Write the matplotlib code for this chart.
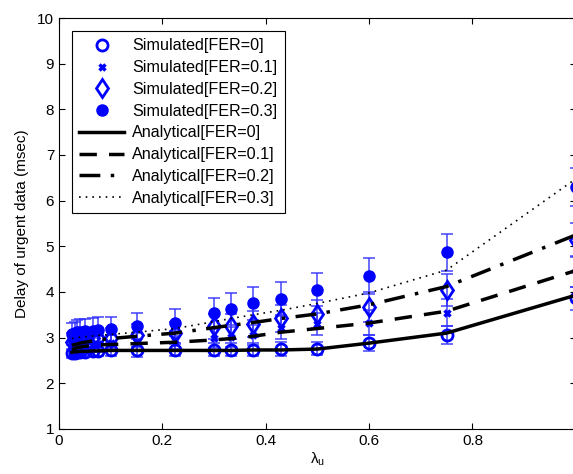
import numpy as np
import matplotlib.pyplot as plt

plt.rcParams.update({'font.family': ['Liberation Sans', 'DejaVu Sans'], 'font.size': 9})

# arrival rate of urgent traffic
lam = [0.025, 0.03, 0.035, 0.04, 0.05, 0.0667, 0.075, 0.1, 0.15, 0.225,
       0.3, 0.333, 0.375, 0.43, 0.5, 0.6, 0.75, 1.0]

# simulated delay (msec) and error half-widths
sim_fer0 = [2.66, 2.67, 2.68, 2.68, 2.69, 2.70, 2.71, 2.72, 2.73, 2.74,
            2.74, 2.74, 2.74, 2.75, 2.76, 2.88, 3.05, 3.86]
sim_fer1 = [2.75, 2.77, 2.78, 2.80, 2.82, 2.84, 2.86, 2.88, 2.90, 2.95,
            3.00, 3.02, 3.05, 3.22, 3.30, 3.33, 3.55, 4.45]
sim_fer2 = [2.90, 2.92, 2.94, 2.96, 2.98, 3.00, 3.00, 3.00, 3.05, 3.10,
            3.25, 3.25, 3.30, 3.42, 3.52, 3.67, 4.05, 5.14]
sim_fer3 = [3.08, 3.10, 3.12, 3.13, 3.14, 3.15, 3.17, 3.18, 3.25, 3.33,
            3.53, 3.63, 3.75, 3.85, 4.05, 4.35, 4.87, 6.30]
err_fer0 = [0.10, 0.10, 0.10, 0.10, 0.10, 0.10, 0.12, 0.12, 0.15, 0.15,
            0.15, 0.15, 0.15, 0.15, 0.15, 0.17, 0.20, 0.25]
err_fer1 = [0.15, 0.15, 0.15, 0.15, 0.15, 0.15, 0.17, 0.18, 0.20, 0.20,
            0.22, 0.22, 0.22, 0.25, 0.25, 0.27, 0.30, 0.33]
err_fer2 = [0.20, 0.20, 0.20, 0.20, 0.20, 0.20, 0.22, 0.22, 0.25, 0.25,
            0.27, 0.27, 0.28, 0.30, 0.30, 0.33, 0.35, 0.38]
err_fer3 = [0.25, 0.25, 0.26, 0.27, 0.27, 0.27, 0.28, 0.28, 0.28, 0.30,
            0.33, 0.35, 0.37, 0.36, 0.36, 0.39, 0.40, 0.42]

# analytical delay (msec)
ana_fer0 = [2.68, 2.69, 2.69, 2.70, 2.70, 2.71, 2.71, 2.72, 2.72, 2.72,
            2.72, 2.72, 2.73, 2.73, 2.75, 2.88, 3.10, 3.93]
ana_fer1 = [2.74, 2.76, 2.78, 2.79, 2.81, 2.83, 2.84, 2.85, 2.87, 2.90,
            2.95, 2.98, 3.03, 3.12, 3.20, 3.32, 3.58, 4.47]
ana_fer2 = [2.83, 2.85, 2.86, 2.88, 2.90, 2.93, 2.95, 2.98, 3.03, 3.10,
            3.22, 3.27, 3.33, 3.42, 3.52, 3.72, 4.12, 5.25]
ana_fer3 = [2.98, 2.99, 3.00, 3.01, 3.02, 3.04, 3.05, 3.07, 3.12, 3.20,
            3.35, 3.42, 3.50, 3.60, 3.75, 3.98, 4.48, 6.48]

fig = plt.figure(figsize=(5.73, 4.74), dpi=100)
ax = fig.add_axes([0.103, 0.095, 0.902, 0.867])

blue = '#0000ff'
errc = (0.2, 0.2, 1.0, 0.85)
sims = [(sim_fer0, err_fer0, dict(marker='o', mfc='none', ms=8, mew=2), 'Simulated[FER=0]'),
        (sim_fer1, err_fer1, dict(marker='x', ms=5, mew=2.5), 'Simulated[FER=0.1]'),
        (sim_fer2, err_fer2, dict(marker='d', mfc='none', ms=9.5, mew=2), 'Simulated[FER=0.2]'),
        (sim_fer3, err_fer3, dict(marker='o', ms=8, mew=1), 'Simulated[FER=0.3]')]
for y, e, st, lab in sims:
    ax.errorbar(lam, y, yerr=e, fmt='none', ecolor=errc, elinewidth=1.2,
                capsize=4, capthick=1.2, zorder=2)
    ax.plot(lam, y, ls='none', color=blue, mec=blue, label=lab, zorder=3, **st)

ax.plot(lam, ana_fer0, '-', color='k', lw=2.5, label='Analytical[FER=0]', zorder=4)
ax.plot(lam, ana_fer1, color='k', lw=2.5, dashes=(5, 3.5), label='Analytical[FER=0.1]', zorder=4)
ax.plot(lam, ana_fer2, color='k', lw=2.5, dashes=(6, 3, 1, 3), label='Analytical[FER=0.2]', zorder=4)
ax.plot(lam, ana_fer3, color='k', lw=1.2, ls=(0, (1, 3)), label='Analytical[FER=0.3]', zorder=4)

ax.set_xlim(0, 1)
ax.set_ylim(1, 10)
ax.set_xticks([0, 0.2, 0.4, 0.6, 0.8, 1])
ax.set_xticklabels(['0', '0.2', '0.4', '0.6', '0.8', '1'])
ax.set_yticks(range(1, 11))
ax.tick_params(direction='in', top=True, right=True, labelsize=11, length=4)
ax.set_xlabel(r'$\mathregular{\lambda_u}$', fontsize=11, labelpad=2)
ax.set_ylabel('Delay of urgent data (msec)', fontsize=11, labelpad=6)

leg = ax.legend(loc='upper left', bbox_to_anchor=(0.025, 0.968), fontsize=11.6,
                fancybox=False, edgecolor='k', framealpha=1, handlelength=2.8,
                borderpad=0.45, labelspacing=0.42, handletextpad=0.5,
                borderaxespad=0)
leg.get_frame().set_linewidth(0.8)

fig.savefig('out.png', dpi=100)
